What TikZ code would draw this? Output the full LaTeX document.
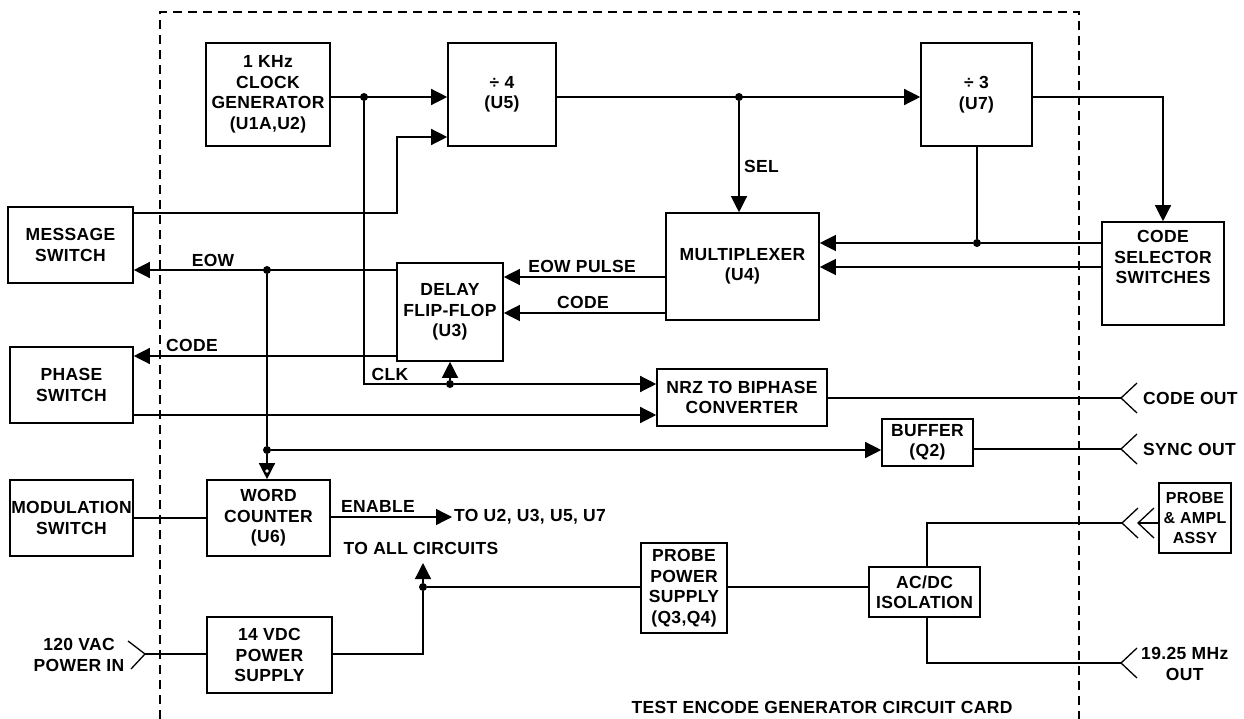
\documentclass[tikz,border=0pt]{standalone}
\usepackage{fontspec}
\setmainfont{Liberation Sans}[LetterSpace=2]
\usetikzlibrary{arrows.meta,calc}
\newcommand\lbl{\fontsize{17.5}{20.5}\selectfont\bfseries}
\tikzset{
 blk/.style={draw, line width=1.6pt, inner sep=0pt, align=center, font=\lbl},
 wire/.style={line width=1.3pt},
 arr/.style={wire, -{Triangle[length=16pt,width=16pt]}},
 jdot/.style={circle, fill, inner sep=0pt, minimum size=8pt},
 lab/.style={font=\lbl, inner sep=0pt, align=center},
 border/.style={line width=1.4pt, dash pattern=on 9pt off 6pt},
}
\begin{document}
\begin{tikzpicture}[x=1pt,y=-1pt]
\useasboundingbox (0,0) rectangle (1244,719);
% border
\draw[border] (160,719) -- (160,12) -- (1079,12) -- (1079,719);
% boxes
\node[blk, minimum width=124pt, minimum height=103pt] (clk) at (268,94.5) {1 KHz\\CLOCK\\GENERATOR\\(U1A,U2)};
\node[blk, minimum width=108pt, minimum height=103pt] (div4) at (502,94.5) {÷ 4\\(U5)};
\node[blk, minimum width=111pt, minimum height=103pt] (div3) at (976.5,94.5) {÷ 3\\(U7)};
\node[blk, minimum width=125pt, minimum height=76pt] (msg) at (70.5,245) {MESSAGE\\SWITCH};
\node[blk, minimum width=153pt, minimum height=107pt] (mux) at (742.5,266.5) {MULTIPLEXER\\(U4)};
\node[blk, minimum width=122pt, minimum height=103pt] (css) at (1163,273.5) {CODE\\SELECTOR\\SWITCHES\\[12pt]};
\node[blk, minimum width=106pt, minimum height=98pt] (dff) at (450,312) {DELAY\\FLIP-FLOP\\(U3)};
\node[blk, minimum width=123pt, minimum height=76pt] (phase) at (71.5,385) {PHASE\\SWITCH};
\node[blk, minimum width=170pt, minimum height=57pt] (nrz) at (742,397.5) {NRZ TO BIPHASE\\CONVERTER};
\node[blk, minimum width=91pt, minimum height=47pt] (buf) at (927.5,442.5) {BUFFER\\(Q2)};
\node[blk, minimum width=123pt, minimum height=76pt] (mod) at (71.5,518) {MODULATION\\SWITCH};
\node[blk, minimum width=123pt, minimum height=76pt] (wc) at (268.5,518) {WORD\\COUNTER\\(U6)};
\node[blk, minimum width=125pt, minimum height=76pt] (ps14) at (269.5,655) {14 VDC\\POWER\\SUPPLY};
\node[blk, minimum width=86pt, minimum height=90pt] (pps) at (684,588) {PROBE\\POWER\\SUPPLY\\(Q3,Q4)};
\node[blk, minimum width=111pt, minimum height=50pt] (acdc) at (924.5,592) {AC/DC\\ISOLATION};
\node[blk, minimum width=72pt, minimum height=70pt, font=\fontsize{16}{20}\selectfont\bfseries] (probe) at (1195,518) {PROBE\\\& AMPL\\ASSY};
% helper coordinates
\coordinate (y97) at (0,97);
\coordinate (y137) at (0,137);
\coordinate (y213) at (0,213);
\coordinate (y267) at (0,267);
\coordinate (y270) at (0,270);
\coordinate (y277) at (0,277);
\coordinate (y313) at (0,313);
\coordinate (y356) at (0,356);
\coordinate (y415) at (0,415);
% junctions
\node[jdot] (j1) at (364,97) {};
\node[jdot] (j2) at (739,97) {};
\node[jdot] (j3) at (977,243) {};
\node[jdot] (j4) at (267,270) {};
\node[jdot] (j5) at (267,450) {};
\node[jdot] (j6) at (450,384) {};
\node[jdot] (j7) at (423,587) {};
\coordinate (b1) at (397,137);
\coordinate (en) at (452,517);
\coordinate (up) at (423,563);
\coordinate (top1) at (927,523);
\coordinate (bot1) at (927,663);
% connectors
\coordinate (co) at (1121,398);
\coordinate (so) at (1121,449);
\coordinate (pa) at (1122,523);
\coordinate (pb) at (1138,523);
\coordinate (mo) at (1121,663);
\coordinate (pin) at (145,654);
\draw[wire] ($(co)+(16,-15)$) -- (co) -- ($(co)+(16,15)$);
\draw[wire] ($(so)+(16,-15)$) -- (so) -- ($(so)+(16,15)$);
\draw[wire] ($(pa)+(16,-15)$) -- (pa) -- ($(pa)+(16,15)$);
\draw[wire] ($(pb)+(16,-15)$) -- (pb) -- ($(pb)+(16,15)$);
\draw[wire] ($(mo)+(16,-15)$) -- (mo) -- ($(mo)+(16,15)$);
\draw[wire] ($(pin)+(-17,-13)$) -- (pin) -- ($(pin)+(-14,15)$);
% wires
\draw[arr] (clk.east |- y97) -- (div4.west |- y97);
\draw[arr] (msg.east |- y213) -| (b1) -- (div4.west |- b1);
\draw[arr] (div4.east |- y97) -- (div3.west |- y97);
\draw[arr] (j2) -- (mux.north -| j2);
\draw[arr] (div3.east |- y97) -| (css.north);
\draw[wire] (div3.south -| j3) -- (j3);
\draw[arr] (j3) -- (mux.east |- j3);
\draw[wire] (j3) -- (css.west |- j3);
\draw[arr] (css.west |- y267) -- (mux.east |- y267);
\draw[arr] (mux.west |- y277) -- (dff.east |- y277);
\draw[arr] (mux.west |- y313) -- (dff.east |- y313);
\draw[arr] (dff.west |- y270) -- (msg.east |- y270);
\draw[arr] (dff.west |- y356) -- (phase.east |- y356);
\draw[wire] (j1) |- (j6);
\draw[arr] (j6) -- (dff.south -| j6);
\draw[arr] (j6) -- (nrz.west |- j6);
\draw[arr] (phase.east |- y415) -- (nrz.west |- y415);
\draw[wire] (j4) -- (j5);
\draw[arr] (j5) -- (wc.north -| j5);
\fill[white] (267,471) circle (1.8pt);
\draw[arr] (j5) -- (buf.west |- j5);
\draw[wire] (buf.east |- so) -- (so);
\draw[wire] (nrz.east |- co) -- (co);
\draw[wire] (mod.east |- wc.west) -- (wc.west);
\draw[arr] (wc.east |- en) -- (en);
\draw[wire] (pin) -- (ps14.west |- pin);
\draw[wire] (ps14.east |- pin) -| (j7);
\draw[arr] (j7) -- (up);
\draw[wire] (j7) -- (pps.west |- j7);
\draw[wire] (pps.east |- j7) -- (acdc.west |- j7);
\draw[wire] (acdc.north -| top1) -- (top1) -- (pa);
\draw[wire] (probe.west |- pb) -- (pb);
\draw[wire] (acdc.south -| bot1) -- (bot1) -- (mo);
% labels
\node[lab, anchor=west] at (744,166) {SEL};
\node[lab] at (213,260) {EOW};
\node[lab] at (582,266) {EOW PULSE};
\node[lab] at (583,302) {CODE};
\node[lab] at (192,345) {CODE};
\node[lab] at (390,374) {CLK};
\node[lab] at (378,506) {ENABLE};
\node[lab, anchor=west] at (454,517) {TO U2, U3, U5, U7};
\node[lab] at (421,548) {TO ALL CIRCUITS};
\node[lab, anchor=west] at (1143,398) {CODE OUT};
\node[lab, anchor=west] at (1143,449) {SYNC OUT};
\node[lab, anchor=west] at (1141,664) {19.25 MHz\\OUT};
\node[lab] at (79,655) {120 VAC\\POWER IN};
\node[lab] at (822,707) {TEST ENCODE GENERATOR CIRCUIT CARD};
\end{tikzpicture}
\end{document}
